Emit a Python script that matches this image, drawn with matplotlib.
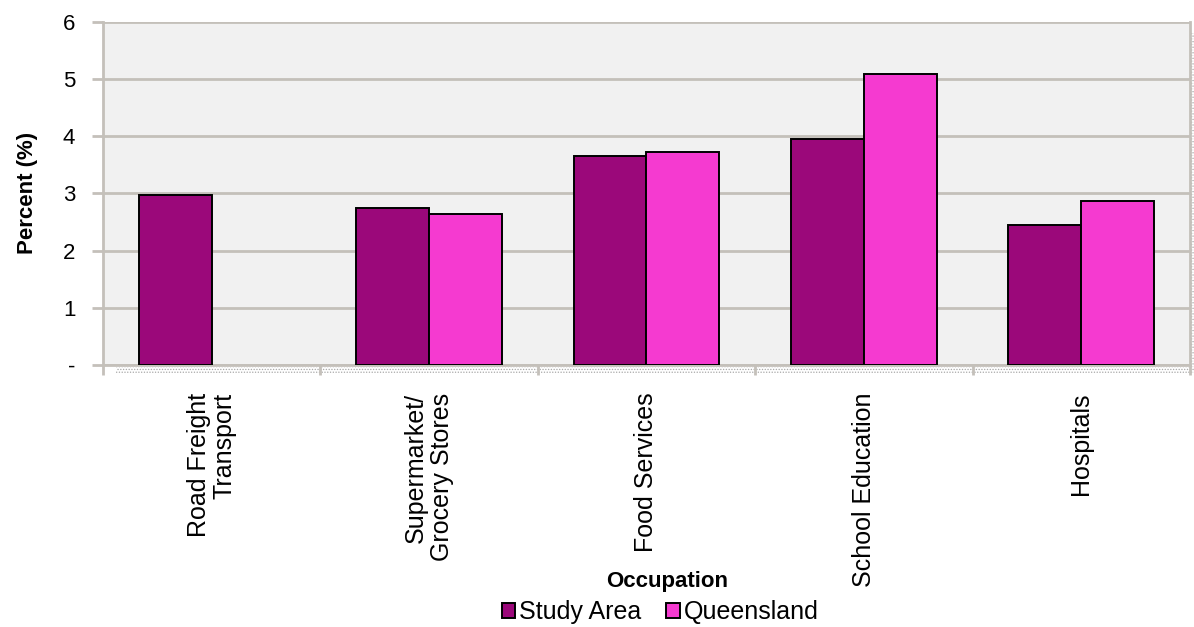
import numpy as np
import matplotlib.pyplot as plt
from matplotlib.patches import Rectangle
from matplotlib.ticker import FuncFormatter, FixedLocator

plt.rcParams['font.family'] = ['Liberation Sans', 'DejaVu Sans']
plt.rcParams['hatch.linewidth'] = 0.6

categories = ['Road Freight\nTransport', 'Supermarket/\nGrocery Stores', 'Food Services',
              'School Education', 'Hospitals']
study_area = [2.97, 2.75, 3.65, 3.95, 2.45]
queensland = [np.nan, 2.64, 3.73, 5.09, 2.87]

grid_col = '#c4c0ba'

fig = plt.figure(figsize=(11.94, 6.27), dpi=100)

# dotted shadow strips under and right of the plot area
fig.patches.append(Rectangle((0.097, 0.403), 0.9, 0.011, transform=fig.transFigure,
                             facecolor='white', edgecolor='#a8a8a8', hatch='......',
                             linewidth=0, zorder=-1))
fig.patches.append(Rectangle((0.9968, 0.403), 0.0032, 0.545, transform=fig.transFigure,
                             facecolor='white', edgecolor='#a8a8a8', hatch='......',
                             linewidth=0, zorder=-1))

ax = fig.add_axes([0.0863, 0.418, 0.9103, 0.547])
ax.set_facecolor('#f1f1f1')

x = np.arange(len(categories))
w = 0.335
ax.bar(x - w / 2, study_area, w, color='#9b087a', edgecolor='black', linewidth=1.4,
       label='Study Area', zorder=3)
ax.bar(x + w / 2, queensland, w, color='#f53ad0', edgecolor='black', linewidth=1.4,
       label='Queensland', zorder=3)

ax.set_xlim(-0.5, len(categories) - 0.5)
ax.set_ylim(0, 6)
ax.set_yticks(range(7))
ax.yaxis.set_major_formatter(FuncFormatter(lambda v, p: '-' if v == 0 else '%d' % v))
ax.grid(axis='y', color=grid_col, linewidth=2, zorder=0)

ax.set_xticks(x)
ax.set_xticklabels(categories, rotation=90, ha='center', va='top', multialignment='right',
                   fontsize=18, linespacing=1.1)
ax.xaxis.set_minor_locator(FixedLocator(np.arange(-0.5, len(categories), 1.0)))
ax.tick_params(axis='x', which='major', length=0, pad=20)
ax.tick_params(axis='x', which='minor', length=7, width=2, color=grid_col, direction='out')
ax.tick_params(axis='y', length=8, width=2, color=grid_col, labelsize=16, pad=12)

for s in ['top', 'right', 'left', 'bottom']:
    ax.spines[s].set_color(grid_col)
    ax.spines[s].set_linewidth(2)
ax.spines['top'].set_visible(False)

ax.set_ylabel('Percent (%)', fontsize=16, fontweight='bold', labelpad=18)
fig.text(0.559, 0.073, 'Occupation', fontsize=16, fontweight='bold', ha='center', va='center')

fig.legend(loc='center', bbox_to_anchor=(0.553, 0.024), ncol=2, frameon=False, fontsize=18,
           handlelength=0.55, handleheight=0.55, handletextpad=0.15, columnspacing=1.0,
           borderpad=0)

fig.savefig('out.png', dpi=100)
